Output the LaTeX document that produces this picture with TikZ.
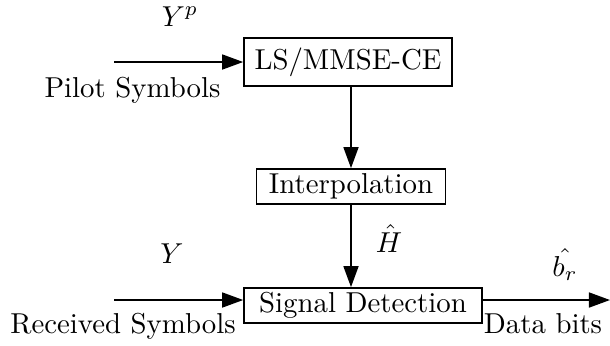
\documentclass[tikz,border=0pt]{standalone}
\usetikzlibrary{arrows.meta}
\begin{document}
\begin{tikzpicture}[x=0.3472pt, y=-0.3472pt,
  blockbox/.style={draw, line width=0.6pt, inner sep=0pt, align=center},
  flow/.style={line width=0.6pt, -{Triangle[length=7.3pt,width=5.2pt]}},
  lbl/.style={inner sep=0pt, anchor=base}]
  \useasboundingbox (0,0) rectangle (610,345);

  % processing blocks
  \node[blockbox, minimum width=72.2pt, minimum height=16.7pt] (ls) at (348,62) {LS/MMSE-CE};
  \node[blockbox, minimum width=65.6pt, minimum height=12.15pt] (interp) at (351,186.5) {Interpolation};
  \node[blockbox, minimum width=82.6pt, minimum height=12.15pt] (sd) at (363,305.5) {Signal Detection};

  % free ends of the input and output lines
  \coordinate (pin) at (114,62);
  \coordinate (rin) at (114,300);
  \coordinate (dout) at (610,300);

  % connectors
  \draw[flow] (pin) -- (ls.west);
  \draw[flow] (ls.south -| interp.north) -- (interp.north);
  \draw[flow] (interp.south) -- (interp.south |- sd.north);
  \draw[flow] (rin) -- (rin -| sd.west);
  \draw[flow] (rin -| sd.east) -- (dout);

  % labels
  \node[lbl] (yp) at (180,26) {$Y^p$};
  \node[lbl] (pilot) at (132.5,97) {Pilot Symbols};
  \node[lbl] (hh) at (389,252) {$\hat{H}$};
  \node[lbl] (yy) at (172,263) {$Y$};
  \node[lbl] (recv) at (123,333) {Received Symbols};
  \node[lbl] (bh) at (565,276) {$\hat{b_r}$};
  \node[lbl] (bits) at (543,333) {Data bits};
\end{tikzpicture}
\end{document}
